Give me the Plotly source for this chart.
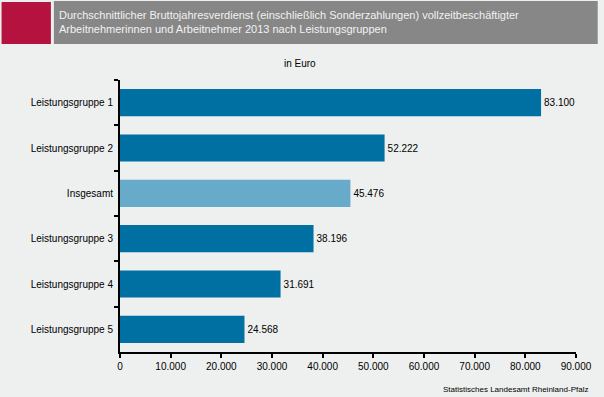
import plotly.graph_objects as go

categories = ["Leistungsgruppe 1", "Leistungsgruppe 2", "Insgesamt",
              "Leistungsgruppe 3", "Leistungsgruppe 4", "Leistungsgruppe 5"]
values = [83100, 52222, 45476, 38196, 31691, 24568]
labels = ["83.100", "52.222", "45.476", "38.196", "31.691", "24.568"]
bar_colors = ["#0070A2", "#0070A2", "#67AACA", "#0070A2", "#0070A2", "#0070A2"]
tick_vals = [0, 10000, 20000, 30000, 40000, 50000, 60000, 70000, 80000, 90000]
tick_text = ["0", "10.000", "20.000", "30.000", "40.000", "50.000",
             "60.000", "70.000", "80.000", "90.000"]

W, H = 604, 397
L, R, T, B = 120, 22, 80, 45
PW, PH = W - L - R, H - T - B
bg = "#EEF0EF"
font = "Liberation Sans, Arial, sans-serif"


def xp(px):
    return (px - L) / PW


def yp(py):
    return (H - B - py) / PH


fig = go.Figure(go.Bar(
    x=values, y=categories, orientation="h",
    marker=dict(color=bar_colors, line=dict(width=0)),
    text=labels, textposition="outside",
    textfont=dict(family=font, size=10, color="#000000"),
    cliponaxis=False, width=0.6, hoverinfo="skip",
))

fig.update_layout(
    width=W, height=H,
    paper_bgcolor=bg, plot_bgcolor=bg,
    margin=dict(l=L, r=R, t=T, b=B, pad=0),
    showlegend=False,
    font=dict(family=font, size=10, color="#000000"),
    xaxis=dict(range=[0, 90000], tickvals=tick_vals, ticktext=tick_text,
               showgrid=False, zeroline=False, showline=True,
               linecolor="#000000", linewidth=1.5,
               ticks="outside", ticklen=4, tickwidth=1.5, tickcolor="#000000",
               tickfont=dict(size=10), fixedrange=True),
    yaxis=dict(autorange="reversed", type="category",
               showgrid=False, showline=True, linecolor="#000000",
               linewidth=2, ticks="outside", ticklen=4, tickwidth=1.5,
               tickcolor="#000000", tickson="boundaries",
               ticklabelstandoff=3,
               tickfont=dict(size=10), fixedrange=True),
    shapes=[
        dict(type="rect", xref="paper", yref="paper",
             x0=xp(0), x1=xp(50), y0=yp(44), y1=yp(2),
             fillcolor="#B5123F", line=dict(width=0), layer="below"),
        dict(type="rect", xref="paper", yref="paper",
             x0=xp(53), x1=xp(W), y0=yp(44), y1=yp(1),
             fillcolor="#878787", line=dict(width=0), layer="below"),
    ],
    annotations=[
        dict(text="Durchschnittlicher Bruttojahresverdienst (einschließlich Sonderzahlungen) vollzeitbeschäftigter<br>Arbeitnehmerinnen und Arbeitnehmer 2013 nach Leistungsgruppen",
             xref="paper", yref="paper", x=xp(56), y=yp(22),
             xanchor="left", yanchor="middle", align="left", showarrow=False,
             font=dict(family=font, size=11, color="#F2F2F2")),
        dict(text="in Euro", xref="paper", yref="paper",
             x=xp(302), y=yp(63), xanchor="center", yanchor="middle",
             showarrow=False, font=dict(family=font, size=10, color="#000000")),
        dict(text="Statistisches Landesamt Rheinland-Pfalz", xref="paper", yref="paper",
             x=xp(596), y=yp(389), xanchor="right", yanchor="middle",
             showarrow=False, font=dict(family=font, size=8, color="#000000")),
    ],
)

fig.write_html("out.html",
               config={"displayModeBar": False},
               post_script="document.body.style.margin='0';document.body.style.padding='0';")
